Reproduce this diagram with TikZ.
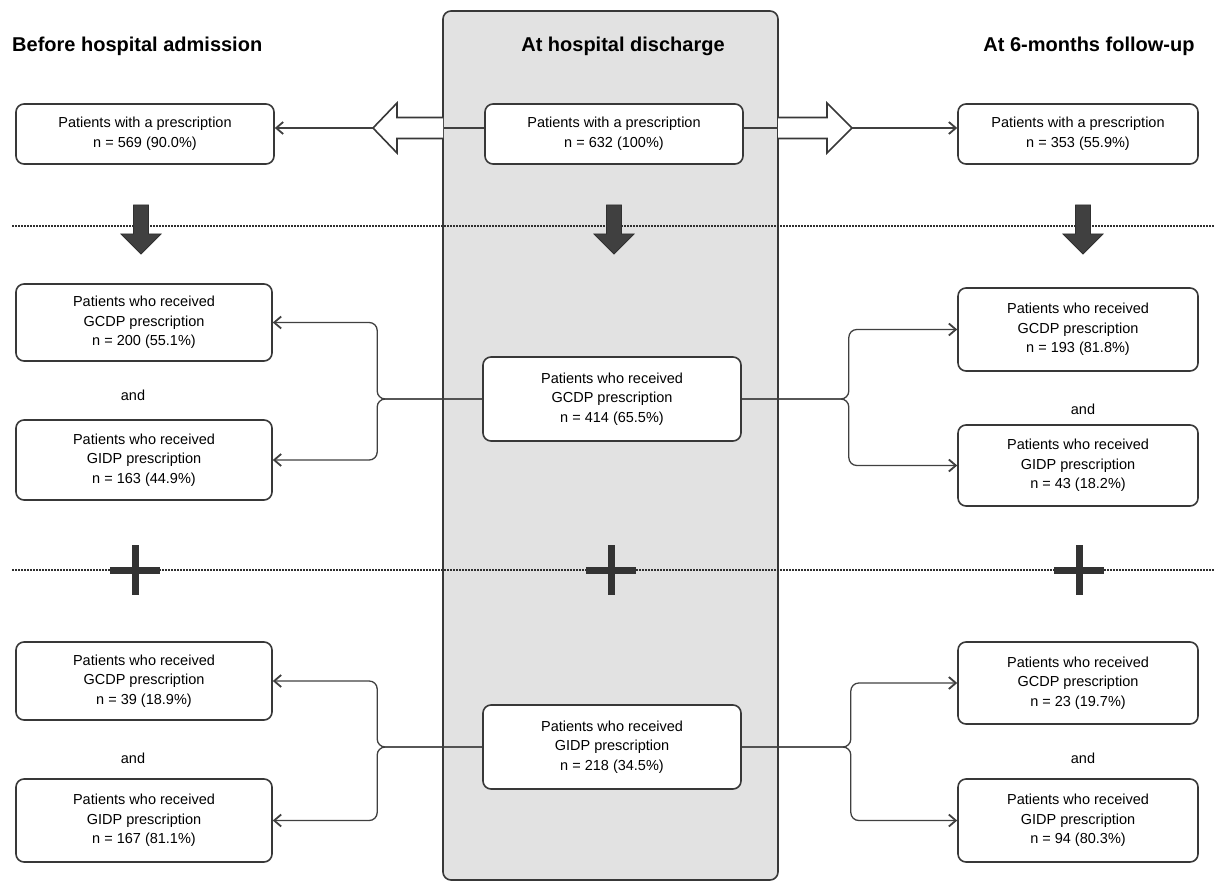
\documentclass[tikz,border=0pt]{standalone}
\usepackage{fontspec}
\setmainfont{Liberation Sans}
\usetikzlibrary{arrows.meta}
\definecolor{panelgray}{HTML}{E2E2E2}
\definecolor{boxline}{HTML}{383838}
\definecolor{connc}{HTML}{404040}
\definecolor{dotc}{HTML}{303030}
\definecolor{darkarr}{HTML}{404040}
\definecolor{plusc}{HTML}{333333}
\tikzset{
 box/.style={draw=boxline, line width=1.6pt, rounded corners=8pt, fill=white, align=center, font=\fontsize{14.5}{19.5}\selectfont, inner sep=0pt},
 lbox/.style={box, minimum width=256pt},
 rbox/.style={box, minimum width=240pt},
 mbox/.style={box, minimum width=258pt},
 conn/.style={draw=connc, line width=1.3pt},
 arr/.style={conn, -{Straight Barb[length=7pt,width=12pt,line width=1.8pt]}},
 ttl/.style={font=\fontsize{20}{24}\bfseries\selectfont, inner sep=0pt},
 andtxt/.style={font=\fontsize{14.5}{19.5}\selectfont, inner sep=0pt},
 dotline/.style={draw=dotc, line width=2pt, dash pattern=on 1.6pt off 1.4pt},
 darrow/.style={fill=darkarr, draw=dotc, line width=0.8pt},
 plusbar/.style={draw=plusc, line width=7pt},
 hollow/.style={fill=white, draw=boxline, line width=1.6pt, line join=miter},
 panelst/.style={fill=panelgray, draw=boxline, line width=1.6pt, rounded corners=8pt},
}
\begin{document}
\begin{tikzpicture}[x=1pt,y=-1pt]
\useasboundingbox (0,0) rectangle (1214,882);
% central panel
\draw[panelst] (443,11) rectangle (778,880);
\coordinate (pl) at (443,128);
\coordinate (pr) at (778,128);
% dotted separators
\draw[dotline] (12,226) -- (1214,226);
\draw[dotline] (12,570) -- (1214,570);
% dark down arrows
\foreach \cx in {141,614,1083}{
  \draw[darrow] (\cx-7.5,205) -- (\cx+7.5,205) -- (\cx+7.5,234) -- (\cx+20,234) -- (\cx,254) -- (\cx-20,234) -- (\cx-7.5,234) -- cycle;
}
% plus signs
\foreach \cx in {135,611,1079}{
  \draw[plusbar] (\cx,545) -- (\cx,595);
  \draw[plusbar] (\cx-25,570) -- (\cx+25,570);
}
% titles
\node[ttl, anchor=base west] (t1) at (12,52) {Before hospital admission};
\node[ttl, anchor=base] (t2) at (623,52) {At hospital discharge};
\node[ttl, anchor=base] (t3) at (1089,52) {At 6-months follow-up};
% row 1 boxes
\node[box, minimum width=258pt, minimum height=60pt] (l1) at (145,134) {Patients with a prescription\\n = 569 (90.0\%)};
\node[mbox, minimum height=60pt] (m1) at (614,134) {Patients with a prescription\\n = 632 (100\%)};
\node[rbox, minimum height=60pt] (r1) at (1078,134) {Patients with a prescription\\n = 353 (55.9\%)};
% row 2 boxes
\node[lbox, minimum height=77pt] (l2a) at (144,322.5) {Patients who received\\GCDP prescription\\n = 200 (55.1\%)};
\node[andtxt] (and1) at (133,395) {and};
\node[lbox, minimum height=80pt] (l2b) at (144,460) {Patients who received\\GIDP prescription\\n = 163 (44.9\%)};
\node[mbox, minimum height=84pt] (m2) at (612,399) {Patients who received\\GCDP prescription\\n = 414 (65.5\%)};
\node[rbox, minimum height=83pt] (r2a) at (1078,329.5) {Patients who received\\GCDP prescription\\n = 193 (81.8\%)};
\node[andtxt] (and2) at (1083,409) {and};
\node[rbox, minimum height=81pt] (r2b) at (1078,465.5) {Patients who received\\GIDP prescription\\n = 43 (18.2\%)};
% row 3 boxes
\node[lbox, minimum height=78pt] (l4a) at (144,681) {Patients who received\\GCDP prescription\\n = 39 (18.9\%)};
\node[andtxt] (and3) at (133,758) {and};
\node[lbox, minimum height=83pt] (l4b) at (144,820.5) {Patients who received\\GIDP prescription\\n = 167 (81.1\%)};
\node[mbox, minimum height=84pt] (m4) at (612,747) {Patients who received\\GIDP prescription\\n = 218 (34.5\%)};
\node[rbox, minimum height=82pt] (r4a) at (1078,683) {Patients who received\\GCDP prescription\\n = 23 (19.7\%)};
\node[andtxt] (and4) at (1083,758) {and};
\node[rbox, minimum height=83pt] (r4b) at (1078,820.5) {Patients who received\\GIDP prescription\\n = 94 (80.3\%)};
% row 1 connectors and hollow arrows
\coordinate (tipL) at (373,128);
\coordinate (tipR) at (852,128);
\draw[conn] (m1.west |- pl) -- (pl);
\draw[conn] (m1.east |- pr) -- (pr);
\draw[hollow] (443,117.5) -- (397,117.5) -- (397,103) -- (tipL) -- (397,153) -- (397,138.5) -- (443,138.5);
\draw[hollow] (778,117.5) -- (827,117.5) -- (827,103) -- (tipR) -- (827,153) -- (827,138.5) -- (778,138.5);
\draw[arr] (tipL) -- (l1.east |- tipL);
\draw[arr] (tipR) -- (r1.west |- tipR);
% row 2 connectors
\draw[arr, rounded corners=8pt] (m2.west) -- ++(-105,0) |- (l2a.east);
\draw[arr, rounded corners=8pt] (m2.west) -- ++(-105,0) |- (l2b.east);
\draw[arr, rounded corners=8pt] (m2.east) -- ++(107,0) |- (r2a.west);
\draw[arr, rounded corners=8pt] (m2.east) -- ++(107,0) |- (r2b.west);
% row 3 connectors
\draw[arr, rounded corners=8pt] (m4.west) -- ++(-105,0) |- (l4a.east);
\draw[arr, rounded corners=8pt] (m4.west) -- ++(-105,0) |- (l4b.east);
\draw[arr, rounded corners=8pt] (m4.east) -- ++(109,0) |- (r4a.west);
\draw[arr, rounded corners=8pt] (m4.east) -- ++(109,0) |- (r4b.west);
\end{tikzpicture}
\end{document}
